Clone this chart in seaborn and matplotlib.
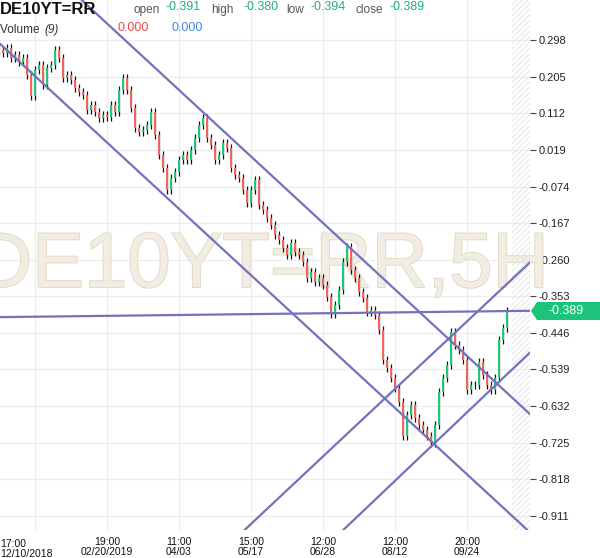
"""
DE10YT=RR 5H candles with hand drawn trend channels
"""

import numpy as np
import matplotlib
matplotlib.use('Agg')
import matplotlib.pyplot as plt
import matplotlib.patheffects as pe
from matplotlib.patches import Polygon
import seaborn as sns
import pandas as pd

symbol = 'DE10YT=RR'
watermark = 'DE10YT=RR,5H'
ohlc_names = ['open', 'high', 'low', 'close']
ohlc_values = ['-0.391', '-0.380', '-0.394', '-0.389']
volume_values = ['0.000', '0.000']

# closing price per bar
first_open = 0.270
closes = [
    0.273, 0.265, 0.278, 0.252, 0.260, 0.242, 0.252, 0.209, 0.156, 0.222,
    0.235, 0.184, 0.227, 0.235, 0.273, 0.252, 0.201, 0.209, 0.196, 0.176,
    0.166, 0.158, 0.120, 0.133, 0.115, 0.100, 0.107, 0.102, 0.133, 0.115,
    0.171, 0.201, 0.171, 0.125, 0.074, 0.064, 0.069, 0.082, 0.115, 0.057,
    0.006, -0.027, -0.083, -0.053, -0.037, -0.007, 0.006, -0.007, 0.019, 0.049,
    0.082, 0.100, 0.049, 0.031, -0.007, 0.006, 0.036, 0.024, -0.027, -0.045,
    -0.053, -0.083, -0.116, -0.083, -0.058, -0.121, -0.134, -0.154, -0.172, -0.197,
    -0.210, -0.230, -0.248, -0.218, -0.240, -0.248, -0.266, -0.307, -0.291, -0.317,
    -0.307, -0.324, -0.355, -0.398, -0.375, -0.337, -0.266, -0.228, -0.286, -0.307,
    -0.342, -0.357, -0.393, -0.388, -0.401, -0.439, -0.515, -0.535, -0.561, -0.586,
    -0.622, -0.708, -0.655, -0.629, -0.662, -0.680, -0.693, -0.708, -0.726, -0.680,
    -0.596, -0.561, -0.528, -0.444, -0.477, -0.489, -0.515, -0.591, -0.578, -0.578,
    -0.520, -0.553, -0.578, -0.591, -0.561, -0.464, -0.434, -0.389,
]

ytick_values = [0.298, 0.205, 0.112, 0.019, -0.074, -0.167, -0.260,
                -0.353, -0.446, -0.539, -0.632, -0.725, -0.818, -0.911]
xtick_bars = [9, 27, 45, 63, 81, 99, 117]
xtick_labels = ['17:00\n12/10/2018', '19:00\n02/20/2019', '11:00\n04/03', '15:00\n05/17',
                '12:00\n06/28', '12:00\n08/12', '20:00\n09/24']

# trend lines, two anchor points each: (bar, price)
trend_lines = [
    ((51, 0.115), (87, -0.223)),     # upper descending
    ((0, 0.291), (113, -0.768)),     # lower descending
    ((98, -0.598), (113, -0.455)),   # upper ascending
    ((108, -0.735), (123, -0.590)),  # lower ascending
    ((0, -0.406), (132, -0.390)),    # horizontal
]

UP = '#1ec878'
DOWN = '#f2645a'
LINE = '#7272bf'
VAL_GREEN = '#21b26f'

sns.set_theme(style='whitegrid')
plt.rcParams['font.family'] = ['Liberation Sans', 'DejaVu Sans']
plt.rcParams['hatch.linewidth'] = 0.7

df = pd.DataFrame({'close': closes})
df['bar'] = np.arange(len(df))
df['open'] = [first_open] + closes[:-1]
df['hi'] = df[['open', 'close']].max(axis=1)
df['lo'] = df[['open', 'close']].min(axis=1)
df['color'] = np.where(df['close'] >= df['open'], UP, DOWN)

fig = plt.figure(figsize=(6, 5.58), dpi=100)
ax = fig.add_axes([0, 28 / 558, 530 / 600, 530 / 558])
ax.set_facecolor('white')
ax.set_xlim(0.25, 132.75)
ax.set_ylim(-0.947, 0.400)
ax.set_axisbelow(True)
ax.grid(True, color='#ececec', lw=0.8)

# watermark
ax.text(-24 / 530, (530 - 287) / 530, watermark, transform=ax.transAxes,
        fontsize=56, color='#f1ede2', va='baseline', ha='left', zorder=0.6,
        clip_on=False,
        path_effects=[pe.withStroke(linewidth=1.4, foreground='#e2dbc9')])

# candles
wick = 0.010
ax.vlines(df['bar'], df['lo'] - wick, df['hi'] + wick, color='#111111', lw=0.9, zorder=2)
ax.bar(df['bar'], df['close'] - df['open'], bottom=df['open'], width=0.55,
       color=df['color'], lw=0, zorder=3)

# future area
ax.axvspan(len(df) + 0.25, 132.75, facecolor='none', edgecolor='#e4e4e4',
           hatch='//////', lw=0, zorder=1)

for p1, p2 in trend_lines:
    ax.axline(p1, p2, color=LINE, lw=1.6, zorder=4)

ax.yaxis.tick_right()
ax.set_yticks(ytick_values)
ax.set_yticklabels([f'{v:.3f}' for v in ytick_values])
ax.tick_params(axis='y', length=4, width=0.8, color='#444444', pad=2,
               labelsize=8, labelcolor='#222222')
ax.set_xticks(xtick_bars)
ax.set_xticklabels([''] + xtick_labels[1:])
ax.tick_params(axis='x', length=0, pad=5, labelsize=7.5, labelcolor='#111111')
ax.text(0.0, -9 / 530, xtick_labels[0], transform=ax.transAxes, ha='left',
        va='top', fontsize=7.5, color='#111111', linespacing=1.0)
for lbl in ax.get_xticklabels():
    lbl.set_linespacing(1.0)
sns.despine(ax=ax, left=True, right=True, top=True, bottom=True)

# price badge
badge = Polygon([(531 / 600, 1 - 311 / 558), (537 / 600, 1 - 302 / 558),
                 (600 / 600, 1 - 302 / 558), (600 / 600, 1 - 320 / 558),
                 (537 / 600, 1 - 320 / 558)], closed=True,
                transform=fig.transFigure, facecolor='#1cc47b', edgecolor='none')
fig.patches.append(badge)
fig.text(566 / 600, 1 - 311 / 558, ohlc_values[3], color='white', fontsize=9,
         ha='center', va='center')

# header
fig.text(0, 1 - 9 / 558, symbol, fontsize=12, weight='bold', va='center', color='#111111')
name_x = [133, 211, 286, 355]
value_x = [165, 243, 310, 390]
for name, val, nx, vx in zip(ohlc_names, ohlc_values, name_x, value_x):
    fig.text(nx / 600, 1 - 10 / 558, name, fontsize=8.5, color='#555555', va='center')
    fig.text(vx / 600, 1 - 7 / 558, val, fontsize=9, color=VAL_GREEN, va='center')
fig.text(0, 1 - 30 / 558, 'Volume ', fontsize=8.5, color='#333333', va='center')
fig.text(44 / 600, 1 - 30 / 558, '(9)', fontsize=8.5, color='#333333', va='center', style='italic')
fig.text(118 / 600, 1 - 28 / 558, volume_values[0], fontsize=9, color='#e84b4b', va='center')
fig.text(172 / 600, 1 - 28 / 558, volume_values[1], fontsize=9, color='#4a86e8', va='center')

fig.savefig('out.png', dpi=100, facecolor='white')
